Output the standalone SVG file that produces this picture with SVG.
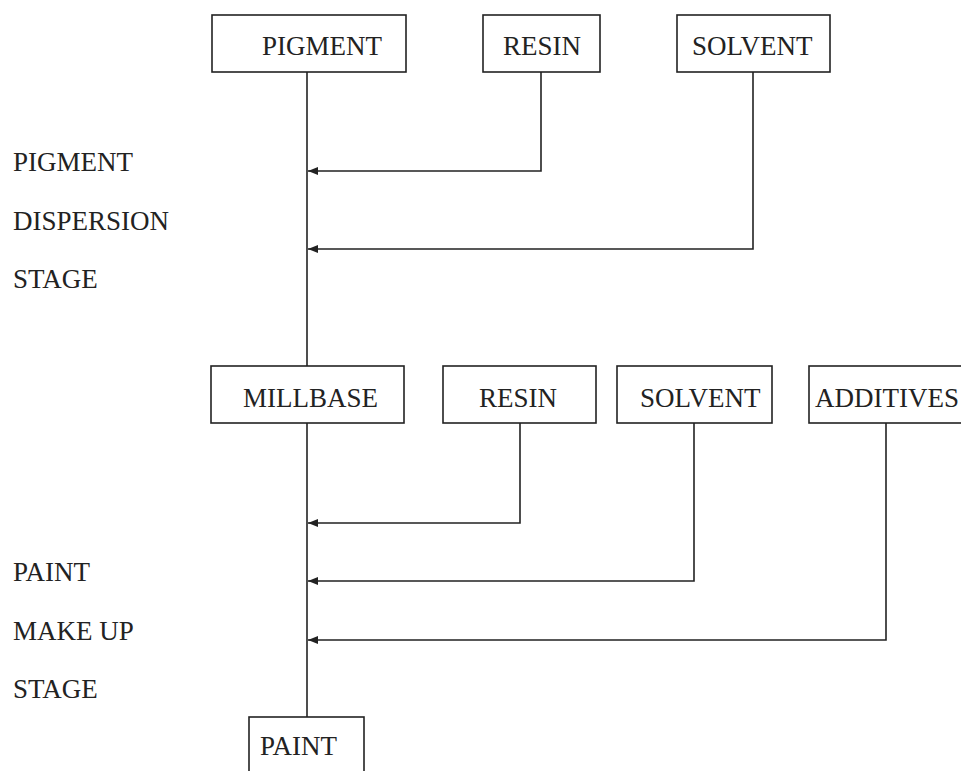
<svg xmlns="http://www.w3.org/2000/svg" width="961" height="771" viewBox="0 0 961 771">
<style>
  .box { fill: #fff; stroke: #222; stroke-width: 1.6; }
  .t { font-family: "Liberation Serif", "Times New Roman", serif; font-size: 27px; fill: #222; }
  .ln { fill: none; stroke: #222; stroke-width: 1.6; }
</style>
<defs>
  <marker id="ah" markerWidth="10" markerHeight="8" refX="10" refY="4" orient="auto" markerUnits="userSpaceOnUse">
    <path d="M0,0 L10,4 L0,8 Z" fill="#222"/>
  </marker>
</defs>
<rect width="961" height="771" fill="#fff"/>

<g id="labels">
  <text class="t" x="13" y="171">PIGMENT</text>
  <text class="t" x="13" y="230">DISPERSION</text>
  <text class="t" x="13" y="288">STAGE</text>
  <text class="t" x="13" y="581">PAINT</text>
  <text class="t" x="13" y="640">MAKE UP</text>
  <text class="t" x="13" y="698">STAGE</text>
</g>

<g id="connectors">
  <line class="ln" x1="307" y1="72" x2="307" y2="366"/>
  <line class="ln" x1="307" y1="423" x2="307" y2="717"/>
  <polyline class="ln" points="541,72 541,171 308,171" marker-end="url(#ah)"/>
  <polyline class="ln" points="753,72 753,249 308,249" marker-end="url(#ah)"/>
  <polyline class="ln" points="520,423 520,523 308,523" marker-end="url(#ah)"/>
  <polyline class="ln" points="694,423 694,581 308,581" marker-end="url(#ah)"/>
  <polyline class="ln" points="886,423 886,640 308,640" marker-end="url(#ah)"/>
</g>

<g id="pigment">
  <rect class="box" x="212" y="15" width="194" height="57"/>
  <text class="t" x="262" y="55">PIGMENT</text>
</g>
<g id="resin1">
  <rect class="box" x="483" y="15" width="117" height="57"/>
  <text class="t" x="503" y="55">RESIN</text>
</g>
<g id="solvent1">
  <rect class="box" x="677" y="15" width="153" height="57"/>
  <text class="t" x="692" y="55">SOLVENT</text>
</g>
<g id="millbase">
  <rect class="box" x="211" y="366" width="193" height="57"/>
  <text class="t" x="243" y="407">MILLBASE</text>
</g>
<g id="resin2">
  <rect class="box" x="443" y="366" width="153" height="57"/>
  <text class="t" x="479" y="407">RESIN</text>
</g>
<g id="solvent2">
  <rect class="box" x="617" y="366" width="155" height="57"/>
  <text class="t" x="640" y="407">SOLVENT</text>
</g>
<g id="additives">
  <rect class="box" x="809" y="366" width="160" height="57"/>
  <text class="t" x="815" y="407">ADDITIVES</text>
</g>
<g id="paint">
  <rect class="box" x="249" y="717" width="115" height="60"/>
  <text class="t" x="260" y="755">PAINT</text>
</g>
</svg>
